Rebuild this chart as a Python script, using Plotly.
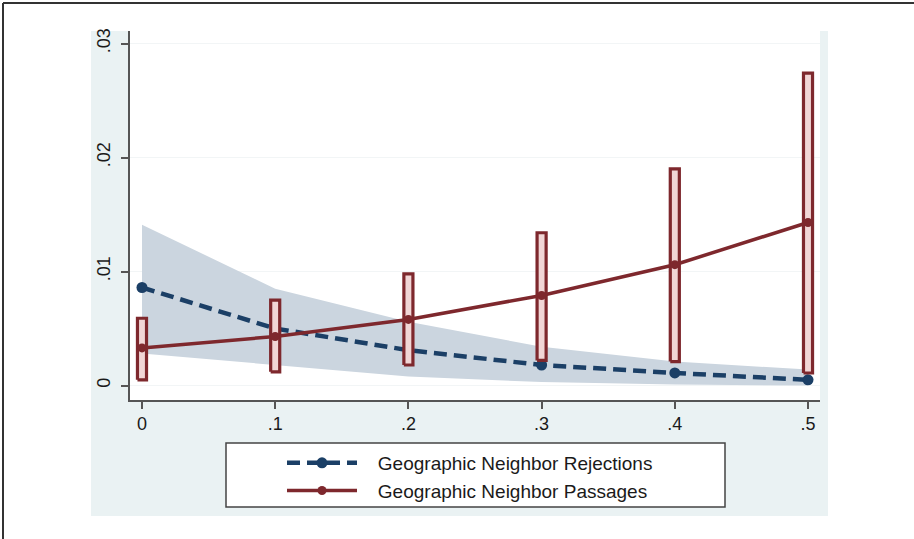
import plotly.graph_objects as go

# ---- data ----
x_vals = [0, 0.1, 0.2, 0.3, 0.4, 0.5]
rej = [0.0086, 0.0050, 0.0031, 0.0018, 0.0011, 0.0005]
rej_lo = [0.0028, 0.0018, 0.0008, 0.0003, 0.0001, 0.0000]
rej_hi = [0.0141, 0.0085, 0.0056, 0.0034, 0.0021, 0.0014]
pas = [0.0033, 0.0043, 0.0058, 0.0079, 0.0106, 0.0143]
pas_lo = [0.0005, 0.0012, 0.0018, 0.0022, 0.0021, 0.0011]
pas_hi = [0.0059, 0.0075, 0.0098, 0.0134, 0.0190, 0.0274]
x_ticks = [0, 0.1, 0.2, 0.3, 0.4, 0.5]
x_tick_text = ["0", ".1", ".2", ".3", ".4", ".5"]
y_ticks = [0, 0.01, 0.02, 0.03]
y_tick_text = ["0", ".01", ".02", ".03"]
names = ["Geographic Neighbor Rejections", "Geographic Neighbor Passages"]

NAVY = "#1B3F66"
MAROON = "#7E282D"
BAND = "#CBD5DF"
PINK = "#F1D6D6"
REGION = "#EAF2F3"
FONT = "Liberation Sans"
GAP = "\u00a0\u00a0\u00a0"  # gap between legend key and label

W, H = 914, 539
ML, MR, MT, MB = 130, 94, 31, 139
PW = W - ML - MR
PH = H - MT - MB

def px_x(p):
    return (p - ML) / PW

def px_y(p):
    return (H - MB - p) / PH

fig = go.Figure()

# confidence band for rejections
fig.add_trace(go.Scatter(x=x_vals, y=rej_lo, mode="lines", line=dict(width=0, color=BAND),
                         showlegend=False, hoverinfo="skip"))
fig.add_trace(go.Scatter(x=x_vals, y=rej_hi, mode="lines", line=dict(width=0, color=BAND),
                         fill="tonexty", fillcolor=BAND, showlegend=False, hoverinfo="skip"))

# rejections line
fig.add_trace(go.Scatter(x=x_vals, y=rej, mode="lines+markers", name=GAP + names[0],
                         line=dict(color=NAVY, width=4.5, dash="13px,7px"),
                         marker=dict(color=NAVY, size=11)))

# passages CI bars (rectangles built from data)
hw = 0.0034
bx, by = [], []
for xv, lo, hi in zip(x_vals, pas_lo, pas_hi):
    bx += [xv - hw, xv + hw, xv + hw, xv - hw, xv - hw, None]
    by += [lo, lo, hi, hi, lo, None]
fig.add_trace(go.Scatter(x=bx, y=by, mode="lines", fill="toself", fillcolor=PINK,
                         line=dict(color=MAROON, width=3.2), showlegend=False, hoverinfo="skip"))

# passages line
fig.add_trace(go.Scatter(x=x_vals, y=pas, mode="lines+markers", name=GAP + names[1],
                         line=dict(color=MAROON, width=3.5),
                         marker=dict(color=MAROON, size=9)))

shapes = [
    # graph region
    dict(type="rect", xref="paper", yref="paper", x0=px_x(91), x1=px_x(828), y0=px_y(516), y1=px_y(31),
         fillcolor=REGION, line=dict(width=0), layer="below"),
    # plot region
    dict(type="rect", xref="paper", yref="paper", x0=0, x1=1, y0=0, y1=1,
         fillcolor="white", line=dict(width=0), layer="below"),
    # legend box
    dict(type="rect", xref="paper", yref="paper", x0=px_x(226), x1=px_x(725), y0=px_y(507), y1=px_y(443),
         fillcolor="white", line=dict(color="#444", width=1.5), layer="below"),
    # outer frame (top and left)
    dict(type="line", xref="paper", yref="paper", x0=px_x(3), x1=px_x(914), y0=px_y(3), y1=px_y(3),
         line=dict(color="#333", width=2)),
    dict(type="line", xref="paper", yref="paper", x0=px_x(3), x1=px_x(3), y0=px_y(3), y1=px_y(539),
         line=dict(color="#333", width=2)),
]

fig.update_layout(
    width=W, height=H,
    margin=dict(l=ML, r=MR, t=MT, b=MB, pad=0),
    paper_bgcolor="white", plot_bgcolor="white",
    font=dict(family=FONT, size=18, color="#1a1a1a"),
    shapes=shapes,
    showlegend=True,
    legend=dict(x=px_x(282), y=px_y(444), xanchor="left", yanchor="top",
                bgcolor="rgba(0,0,0,0)", borderwidth=0, itemwidth=70, traceorder="normal",
                font=dict(family=FONT, size=19, color="#1a1a1a"), tracegroupgap=0),
    xaxis=dict(range=[-0.009, 0.509], tickvals=x_ticks, ticktext=x_tick_text,
               showgrid=False, zeroline=False, showline=True, linecolor="#555", linewidth=1.5,
               ticks="outside", ticklen=7, tickwidth=1.5, tickcolor="#555"),
    yaxis=dict(range=[-0.00127, 0.0311], tickvals=y_ticks, ticktext=y_tick_text, tickangle=-90,
               showgrid=True, gridcolor="#F2F5F6", gridwidth=1, ticklabelstandoff=4,
               zeroline=False, showline=True, linecolor="#555", linewidth=1.5,
               ticks="outside", ticklen=7, tickwidth=1.5, tickcolor="#555"),
)

fig.write_html("out.html", config={"displayModeBar": False},
               post_script="document.body.style.margin='0';")
